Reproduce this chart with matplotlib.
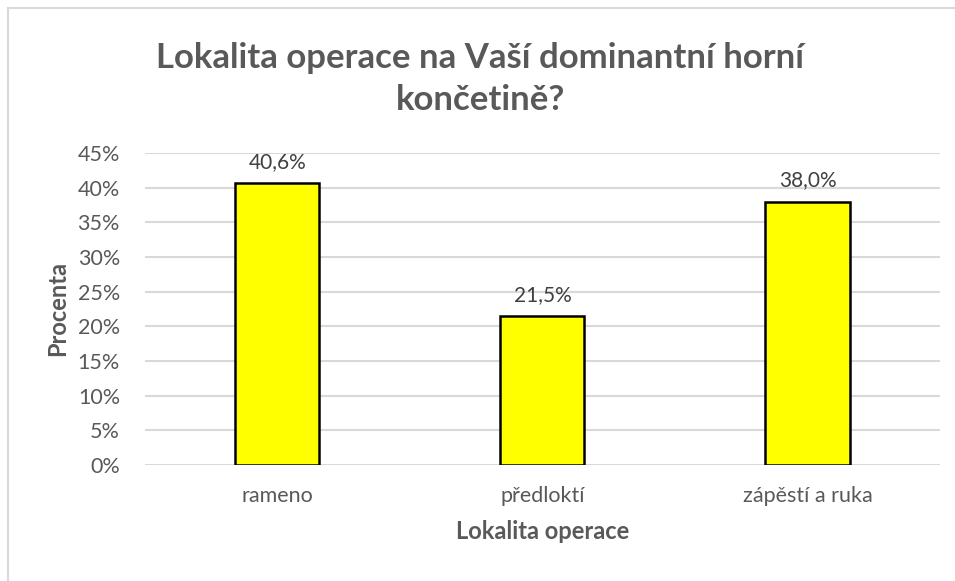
import matplotlib
matplotlib.use("Agg")
import matplotlib.pyplot as plt
from matplotlib.lines import Line2D
from matplotlib.ticker import PercentFormatter

plt.rcParams["font.family"] = ["Lato", "DejaVu Sans"]

categories = ["rameno", "předloktí", "zápěstí a ruka"]
values = [40.6, 21.5, 38.0]
labels = ["40,6%", "21,5%", "38,0%"]

TEXT = "#595959"
GRID = "#d9d9d9"

fig = plt.figure(figsize=(9.55, 5.81), dpi=100)
ax = fig.add_axes([0.1518, 0.1997, 0.8325, 0.537])

x = range(len(categories))
ax.bar(x, values, width=0.317, color="#ffff00", edgecolor="black",
       linewidth=1.8, zorder=3)
for xi, v, lab in zip(x, values, labels):
    ax.annotate(lab, (xi, v), xytext=(0, 8), textcoords="offset points",
                ha="center", va="bottom", fontsize=15, color="#404040")

ax.set_xlim(-0.5, 2.5)
ax.set_ylim(0, 45)
ax.set_yticks(range(0, 46, 5))
ax.yaxis.set_major_formatter(PercentFormatter(decimals=0))
ax.set_xticks(list(x))
ax.set_xticklabels(categories)
ax.tick_params(axis="both", length=0, labelsize=15.5, labelcolor=TEXT)
ax.tick_params(axis="x", pad=15)
ax.tick_params(axis="y", pad=18)
ax.grid(axis="y", color=GRID, linewidth=1.5, zorder=0)
for s in ax.spines.values():
    s.set_visible(False)

ax.set_ylabel("Procenta", fontsize=17, fontweight="bold", color=TEXT, labelpad=6)
ax.set_xlabel("Lokalita operace", fontsize=17, fontweight="bold", color=TEXT, labelpad=10)

fig.text(0.503, 0.864, "Lokalita operace na Vaší dominantní horní\nkončetině?",
         ha="center", va="center", fontsize=25, fontweight="bold", color=TEXT,
         linespacing=1.38)

# chart frame (top and left edges visible)
fig.add_artist(Line2D([0.008, 1], [0.986, 0.986], color=GRID, linewidth=1.5))
fig.add_artist(Line2D([0.008, 0.008], [0, 0.986], color=GRID, linewidth=1.5))

fig.savefig("out.png", dpi=100)
